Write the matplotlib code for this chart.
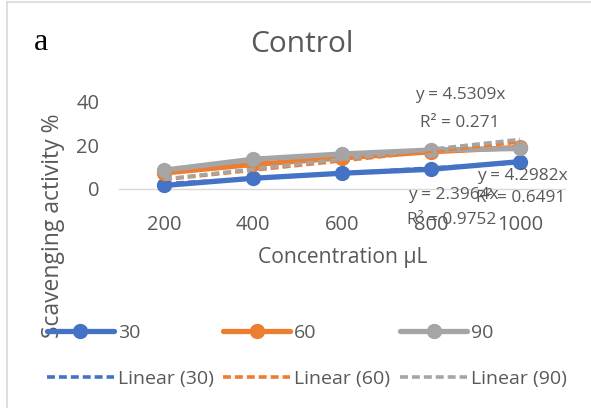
import matplotlib
matplotlib.use("Agg")
import matplotlib.pyplot as plt
from matplotlib.lines import Line2D
import numpy as np

# ---- data ----
categories = ["200", "400", "600", "800", "1000"]
series_names = ["30", "60", "90"]
values_30 = [1.6, 4.9, 7.2, 9.0, 12.5]
values_60 = [7.3, 11.2, 14.2, 17.0, 19.0]
values_90 = [8.6, 13.6, 16.0, 17.8, 18.5]
slopes = [2.3964, 4.2982, 4.5309]
r2 = [0.9752, 0.6491, 0.271]
colors = ["#4472C4", "#ED7D31", "#A5A5A5"]
yticks = [0, 20, 40]

W, H = 591, 408
fig = plt.figure(figsize=(W / 100, H / 100), dpi=100)
plt.rcParams['font.family'] = ['Open Sans', 'DejaVu Sans']
txt = "#595959"

def fx(px):
    return px / W

def fy(py):
    return 1 - py / H

# axes: x from 0.5 (px 119.5) to 5.5 (px 564.5); y from 0 (px 189) to 50 (px 79.5)
ax_l, ax_r = 119.5, 564.5
ax_b, ax_t = 189, 79.5
ax = fig.add_axes([fx(ax_l), fy(ax_b), fx(ax_r - ax_l), (ax_b - ax_t) / H])
ax.set_xlim(0.5, 5.5)
ax.set_ylim(0, 50)
ax.patch.set_alpha(0)

x = np.arange(1, len(categories) + 1)
all_vals = [values_30, values_60, values_90]
handles_s = []
handles_l = []
for name, vals, c, s in zip(series_names, all_vals, colors, slopes):
    ln, = ax.plot(x, vals, color=c, lw=3.8, marker='o', ms=10,
                  clip_on=False, zorder=3, label=name,
                  solid_capstyle='round')
    tl, = ax.plot(x, s * x, color=c, lw=2.6, ls=(0, (2.2, 1.1)),
                  clip_on=False, zorder=4, label=f"Linear ({name})")
    handles_s.append(ln)
    handles_l.append(tl)

for sp in ["top", "right", "left"]:
    ax.spines[sp].set_visible(False)
ax.spines["bottom"].set_color("#D9D9D9")
ax.spines["bottom"].set_linewidth(1.0)
ax.set_xticks(x)
ax.set_xticklabels(categories)
ax.set_yticks(yticks)
ax.tick_params(axis='both', length=0, labelsize=14.5, labelcolor=txt)
ax.tick_params(axis='x', pad=19)
ax.tick_params(axis='y', pad=14.5)

# titles / labels
fig.text(fx(301.5), fy(45), "Control", ha='center', va='center',
         fontsize=21.5, color=txt)
fig.text(fx(41), fy(43), "a", ha='center', va='center', fontsize=23,
         color='black', family=['Liberation Serif'])
fig.text(fx(343), fy(257), "Concentration µL", ha='center', va='center',
         fontsize=15.2, color=txt)
fig.text(fx(53), fy(226), "Scavenging activity %", ha='center', va='center',
         fontsize=16.5, color=txt, rotation=90)

# trendline equations
eq_pos = [((453, 195), (452, 220)), ((522, 176), (521, 198)),
          ((460, 95), (460, 123))]
for s, r, (p1, p2) in zip(slopes, r2, eq_pos):
    fig.text(fx(p1[0]), fy(p1[1]), f"y = {s}x", ha='center', va='center',
             fontsize=12.4, color=txt)
    fig.text(fx(p2[0]), fy(p2[1]), f"R² = {r}", ha='center', va='center',
             fontsize=12.4, color=txt)

# legend
order = []
for a, b in zip(handles_s, handles_l):
    order += [a, b]
leg = fig.legend(handles=order, labels=[h.get_label() for h in order],
                 ncol=3, loc='center left',
                 bbox_to_anchor=(fx(39), fy(356)),
                 frameon=False, fontsize=14, handlelength=3.45,
                 handletextpad=0.2, columnspacing=0.5, labelspacing=1.45,
                 numpoints=1, borderaxespad=0)
for t in leg.get_texts():
    t.set_color(txt)

# chart border
fig.add_artist(Line2D([fx(7), 1], [fy(1.5), fy(1.5)], color="#D9D9D9", lw=1.2))
fig.add_artist(Line2D([fx(7), fx(7)], [fy(1.5), 0], color="#D9D9D9", lw=1.2))

fig.savefig("out.png", dpi=100)
